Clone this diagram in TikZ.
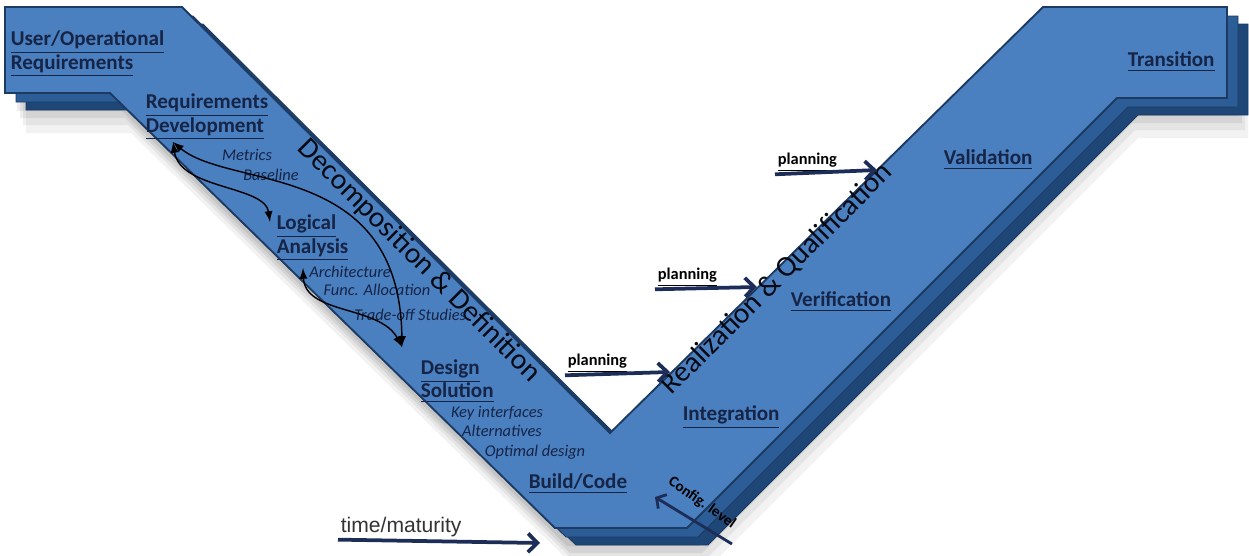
\documentclass[tikz,border=0pt]{standalone}
\usepackage{fontspec}
\setmainfont{Carlito}
\newfontfamily\arialfont{Liberation Sans}
\usetikzlibrary{arrows.meta}

\definecolor{vfront}{RGB}{74,127,192}
\definecolor{vmid}{RGB}{44,93,150}
\definecolor{vback}{RGB}{30,70,118}
\definecolor{vedge}{RGB}{28,58,98}
\definecolor{navy}{RGB}{28,45,88}
\definecolor{inkblue}{RGB}{22,36,70}

\begin{document}
\begin{tikzpicture}[x=0.015cm,y=-0.015cm,
    vshape/.style={insert path={(5,7) -- (182,7) -- (610,433) -- (1043,7) -- (1227,7) -- (1227,98) -- (1117,98) -- (687,528) -- (555,528) -- (110,93) -- (5,93) -- cycle}},
    phaselabel/.style={font=\fontsize{9}{10}\selectfont\bfseries, text=inkblue, inner sep=1pt, anchor=west, align=left},
    subtask/.style={font=\fontsize{7}{8}\selectfont\itshape, text=inkblue, inner sep=1pt},
    planlabel/.style={font=\fontsize{7}{8}\selectfont\bfseries, inner sep=1pt, anchor=west},
    bannertext/.style={font=\fontsize{12.5}{14}\selectfont, text=black!80!navy},
    planarrow/.style={navy, line width=1.6pt, -{Straight Barb[length=4pt,width=8pt]}},
    iterarrow/.style={black, semithick, latex-latex}]
    \useasboundingbox (0,0) rectangle (1249,556);
    % soft shadow
    \fill[black, opacity=0.07, shift={(12,18)}, vshape];
    \fill[black, opacity=0.07, shift={(15,25)}, vshape];
    \fill[black, opacity=0.06, shift={(18,32)}, vshape];
    \fill[black, opacity=0.05, shift={(21,40)}, vshape];
    % stacked layers
    \filldraw[fill=vback, draw=vedge, shift={(21,17)}, vshape];
    \filldraw[fill=vmid, draw=vedge, shift={(11,9)}, vshape];
    \filldraw[fill=vfront, draw=vedge, thick, vshape];%
    \node[bannertext, rotate=-45] (decomp) at (419,261) {Decomposition \& Definition};
    \node[bannertext, rotate=45] (realiz) at (777,279) {Realization \& Qualification};%
    \node[phaselabel] (userreq) at (8,54) {\underline{User/Operational}\\\underline{Requirements}};
    \node[phaselabel] (reqdev) at (143,117) {\underline{Requirements}\\\underline{Development}};
    \node[phaselabel] (logic) at (274,238) {\underline{Logical}\\\underline{Analysis}};
    \node[phaselabel] (design) at (418,381) {\underline{Design}\\\underline{Solution}};
    \node[phaselabel] (build) at (526,484) {\underline{Build/Code}};
    \node[phaselabel] (integ) at (680,417) {\underline{Integration}};
    \node[phaselabel] (verif) at (788,302) {\underline{Verification}};
    \node[phaselabel] (valid) at (941,160) {\underline{Validation}};
    \node[phaselabel] (trans) at (1125,62) {\underline{Transition}};%
    \node[subtask] (metrics) at (247,155) {Metrics};
    \node[subtask] (baseline) at (271,175) {Baseline};
    \node[subtask] (arch) at (350,272) {Architecture};
    \node[subtask] (funcalloc) at (377,290) {Func. Allocation};
    \node[subtask] (tradeoff) at (410,315) {Trade-off Studies};
    \node[subtask] (keyif) at (497,413) {Key interfaces};
    \node[subtask] (altern) at (502,431) {Alternatives};
    \node[subtask] (optimal) at (535,452) {Optimal design};%
    \coordinate (devtip) at (173,142);
    \coordinate (logictip) at (270,222);
    \coordinate (analysistip) at (303,268);
    \coordinate (designtip) at (402,347);
    \draw[iterarrow] (devtip) .. controls (180,190) and (265,185) .. (logictip);
    \draw[iterarrow] (devtip) .. controls (230,190) and (400,160) .. (designtip);
    \draw[iterarrow] (analysistip) .. controls (305,315) and (380,305) .. (designtip);%
    \node[planlabel] (plan1) at (565,363) {\underline{planning}};
    \node[planlabel] (plan2) at (655,277) {\underline{planning}};
    \node[planlabel] (plan3) at (775,162) {\underline{planning}};
    \coordinate (plan1end) at (670,372);
    \coordinate (plan2end) at (757,287);
    \coordinate (plan3end) at (877,170);
    \draw[planarrow] (plan1.south west) -- (plan1end);
    \draw[planarrow] (plan2.south west) -- (plan2end);
    \draw[planarrow] (plan3.south west) -- (plan3end);%
    \node[font=\arialfont\fontsize{9}{10}\selectfont, text=black!80, anchor=west, inner sep=1pt] (timemat) at (338,527) {time/maturity};
    \coordinate (timeend) at (540,543);
    \draw[planarrow] (timemat.south west) -- (timeend);%
    \node[font=\fontsize{6.5}{7}\selectfont\bfseries, rotate=-35, inner sep=1pt] (config) at (702,503) {Config. level};
    \coordinate (cfgstart) at (732,544);
    \coordinate (cfgend) at (655,497);
    \draw[navy, line width=1.2pt, -{Straight Barb[length=3pt,width=7pt]}] (cfgstart) -- (cfgend);
\end{tikzpicture}
\end{document}
